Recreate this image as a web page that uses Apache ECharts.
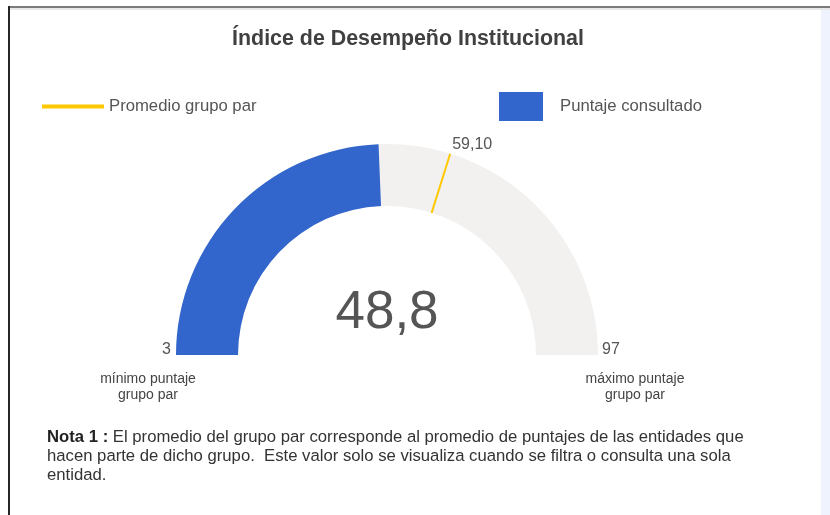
<!DOCTYPE html>
<html>
<head>
<meta charset="utf-8">
<title>Índice de Desempeño Institucional</title>
<script src="https://cdn.jsdelivr.net/npm/echarts/dist/echarts.min.js"></script>
<style>
  html, body { margin: 0; padding: 0; background: #ffffff; }
  #frame-top  { position: absolute; left: 8px;   top: 6px;  width: 822px; height: 2px;   background: #7b7b7b; }
  #frame-top2 { position: absolute; left: 10px;  top: 8px;  width: 820px; height: 2px;   background: #e8e8e8; }
  #frame-left { position: absolute; left: 8px;   top: 6px;  width: 2px;   height: 509px; background: #262626; }
  #side-strip { position: absolute; left: 821px; top: 10px; width: 9px;   height: 505px; background: #eef3fd; }
  #chart      { position: absolute; left: 0; top: 0; width: 830px; height: 515px; }
</style>
</head>
<body>
<div id="frame-top"></div>
<div id="frame-top2"></div>
<div id="frame-left"></div>
<div id="side-strip"></div>
<div id="chart"></div>
<script>
// ---- data ----
const chartTitle   = 'Índice de Desempeño Institucional';
const seriesNames  = ['Promedio grupo par', 'Puntaje consultado'];
const scaleRange   = [3, 97];      // mínimo y máximo puntaje del grupo par
const scoreValue   = [48.8];       // puntaje consultado
const peerAverage  = [59.10];      // promedio del grupo par
const endCaptions  = ['mínimo puntaje\ngrupo par', 'máximo puntaje\ngrupo par'];
const noteLines    = [
  '{b|Nota 1 :} El promedio del grupo par corresponde al promedio de puntajes de las entidades que',
  'hacen parte de dicho grupo.  Este valor solo se visualiza cuando se filtra o consulta una sola',
  'entidad.'
];

// ---- styling / layout ----
const FONT   = '"Liberation Sans", Arial, Helvetica, sans-serif';
const BLUE   = '#3366cc';
const TRACK  = '#f2f1ef';
const YELLOW = '#ffc800';
const TEXT   = '#555555';
const CX = 387, CY = 355, R = 211, BAND = 62;

const fmt = (v, d) => Number(v).toFixed(d).replace('.', ',');

// angle (radians) of a value on the half-circle dial
const dialAngle = v => Math.PI * (1 - (v - scaleRange[0]) / (scaleRange[1] - scaleRange[0]));
const avgA = dialAngle(peerAverage[0]);

const chart = echarts.init(document.getElementById('chart'), null, { renderer: 'canvas' });

chart.setOption({
  animation: false,
  title: {
    text: chartTitle,
    left: 403, top: 24, textAlign: 'center',
    textStyle: { fontFamily: FONT, fontSize: 21.4, fontWeight: 'bold', color: '#404040' }
  },
  legend: [
    {
      data: [{ name: seriesNames[0], itemStyle: { color: YELLOW } }],
      left: 42, top: 98, padding: 0, icon: 'rect', itemWidth: 62, itemHeight: 4,
      selectedMode: false,
      textStyle: { fontFamily: FONT, fontSize: 16.7, color: TEXT }
    },
    {
      data: [{ name: seriesNames[1], itemStyle: { color: BLUE } }],
      left: 499, top: 92, padding: 0, icon: 'rect', itemWidth: 44, itemHeight: 29,
      selectedMode: false,
      textStyle: { fontFamily: FONT, fontSize: 16.7, color: TEXT, padding: [2, 0, 0, 12] }
    }
  ],
  series: [
    {
      // puntaje consultado: track + filled progress + central value
      type: 'gauge',
      name: seriesNames[1],
      center: [CX, CY], radius: R,
      startAngle: 180, endAngle: 0,
      min: scaleRange[0], max: scaleRange[1],
      splitNumber: 1,
      axisLine: { lineStyle: { width: BAND, color: [[1, TRACK]] } },
      progress: { show: true, width: BAND, itemStyle: { color: BLUE } },
      pointer: { show: false },
      anchor: { show: false },
      axisTick: { show: false },
      splitLine: { show: false },
      axisLabel: { show: false },
      title: { show: false },
      detail: {
        offsetCenter: [0, -42],
        fontFamily: FONT, fontSize: 53, fontWeight: 'normal', color: TEXT,
        formatter: v => fmt(v, 1)
      },
      data: [{ value: scoreValue[0], name: seriesNames[1] }]
    },
    {
      // promedio grupo par: marker across the band + its label
      type: 'gauge',
      name: seriesNames[0],
      center: [CX, CY], radius: R,
      startAngle: 180, endAngle: 0,
      min: scaleRange[0], max: scaleRange[1],
      splitNumber: 1,
      axisLine: { show: false, lineStyle: { width: 0 } },
      axisTick: { show: false },
      splitLine: { show: false },
      axisLabel: { show: false },
      pointer: {
        show: true, icon: 'rect', width: 2, length: BAND,
        offsetCenter: [0, -(R - BAND)],
        itemStyle: { color: YELLOW }
      },
      anchor: { show: false },
      title: { show: false },
      detail: {
        offsetCenter: [R * Math.cos(avgA) + 22, -R * Math.sin(avgA) - 9],
        fontFamily: FONT, fontSize: 16, fontWeight: 'normal', color: TEXT,
        formatter: v => fmt(v, 2)
      },
      data: [{ value: peerAverage[0], name: seriesNames[0] }]
    }
  ],
  graphic: [
    // scale ends (min / max of the peer group) beside the dial
    {
      type: 'text',
      style: {
        x: CX - R - 5, y: 350, text: String(scaleRange[0]), align: 'right', verticalAlign: 'middle',
        font: '16px ' + FONT, fill: TEXT
      }
    },
    {
      type: 'text',
      style: {
        x: CX + R + 4, y: 350, text: String(scaleRange[1]), align: 'left', verticalAlign: 'middle',
        font: '16px ' + FONT, fill: TEXT
      }
    },
    {
      type: 'text',
      style: {
        x: 148, y: 371, text: endCaptions[0], align: 'center', verticalAlign: 'top',
        font: '14px ' + FONT, lineHeight: 16, fill: '#444444'
      }
    },
    {
      type: 'text',
      style: {
        x: 635, y: 371, text: endCaptions[1], align: 'center', verticalAlign: 'top',
        font: '14px ' + FONT, lineHeight: 16, fill: '#444444'
      }
    },
    {
      type: 'text',
      style: {
        x: 47, y: 428, text: noteLines.join('\n'),
        font: '16.7px ' + FONT, lineHeight: 19, fill: '#333333',
        rich: { b: { fontWeight: 'bold', fontSize: 16.7, fontFamily: FONT, fill: '#222222', lineHeight: 19 } }
      }
    }
  ]
});
</script>
</body>
</html>
